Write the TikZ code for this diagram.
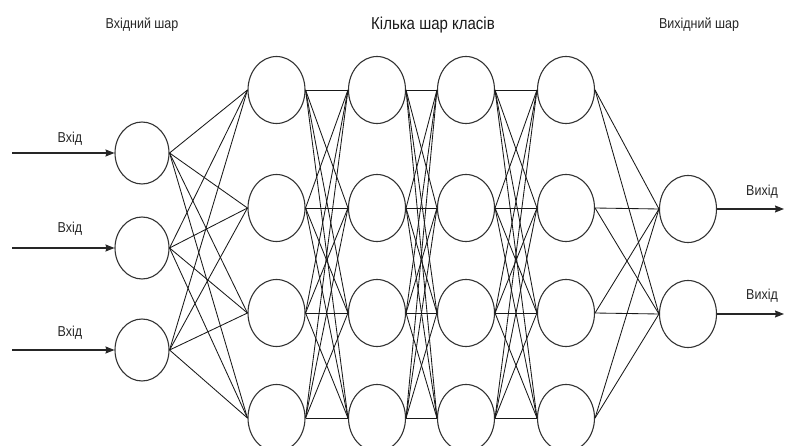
\documentclass[tikz,border=0pt]{standalone}
\usepackage{fontspec}
\setmainfont{Liberation Sans}
\usetikzlibrary{shapes.geometric,arrows.meta}
\newcommand{\vstretch}[1]{\scalebox{1}[1.15]{#1}}
\tikzset{
  neuron/.style={ellipse, draw=black!80, line width=1.1pt, inner sep=0pt,
                 minimum width=57pt, minimum height=67pt},
  inneuron/.style={neuron, minimum width=54pt, minimum height=62pt},
  link/.style={draw=black!90, line width=0.85pt},
  flow/.style={draw=black!85, line width=1.1pt, -{Stealth[length=9pt,width=7pt,inset=1pt]}},
  lbl/.style={inner sep=0pt, text=black!85, font=\fontsize{12.5}{14}\selectfont},
  ttl/.style={inner sep=0pt, text=black!90, font=\fontsize{15}{18}\selectfont}
}
\begin{document}
\begin{tikzpicture}[x=1pt,y=-1pt]
  \useasboundingbox (0,0) rectangle (792,446);
  \clip (0,0) rectangle (792,446);

  % layer titles
  \node[lbl] (tin)  at (142,25) {\vstretch{Вхідний шар}};
  \node[ttl] (thid) at (433,25) {\vstretch{Кілька шар класів}};
  \node[lbl] (tout) at (699,25) {\vstretch{Вихідний шар}};

  % input layer
  \foreach \i/\y in {1/153,2/248,3/350}
    \node[inneuron] (in\i) at (142,\y) {};

  % hidden layers
  \foreach \l/\x in {1/276.5,2/377,3/466,4/566}
    \foreach \r/\y in {1/90,2/208,3/313,4/418}
      \node[neuron] (h\l\r) at (\x,\y) {};

  % output layer
  \foreach \o/\y in {1/209,2/314}
    \node[neuron] (out\o) at (688,\y) {};

  % input -> first hidden layer
  \foreach \i in {1,2,3}
    \foreach \r in {1,2,3,4}
      \draw[link] (in\i.east) -- (h1\r.west);

  % hidden -> hidden
  \foreach \l/\m in {1/2,2/3,3/4}
    \foreach \r in {1,2,3,4}
      \foreach \s in {1,2,3,4}
        \draw[link] (h\l\r.east) -- (h\m\s.west);

  % last hidden -> output
  \foreach \r in {1,2,3,4}
    \foreach \o in {1,2}
      \draw[link] (h4\r.east) -- (out\o.west);

  % inputs
  \foreach \i/\y in {1/153,2/248,3/350} {
    \coordinate (src\i) at (12,\y);
    \draw[flow] (src\i) -- (in\i.west);
  }
  \node[lbl] (lin1) at (70,139) {\vstretch{Вхід}};
  \node[lbl] (lin2) at (70,229) {\vstretch{Вхід}};
  \node[lbl] (lin3) at (70,333) {\vstretch{Вхід}};

  % outputs
  \foreach \o/\y in {1/209,2/314} {
    \coordinate (dst\o) at (784,\y);
    \draw[flow] (out\o.east) -- (dst\o);
  }
  \node[lbl] (lout1) at (762,192) {\vstretch{Вихід}};
  \node[lbl] (lout2) at (762,296) {\vstretch{Вихід}};
\end{tikzpicture}
\end{document}
